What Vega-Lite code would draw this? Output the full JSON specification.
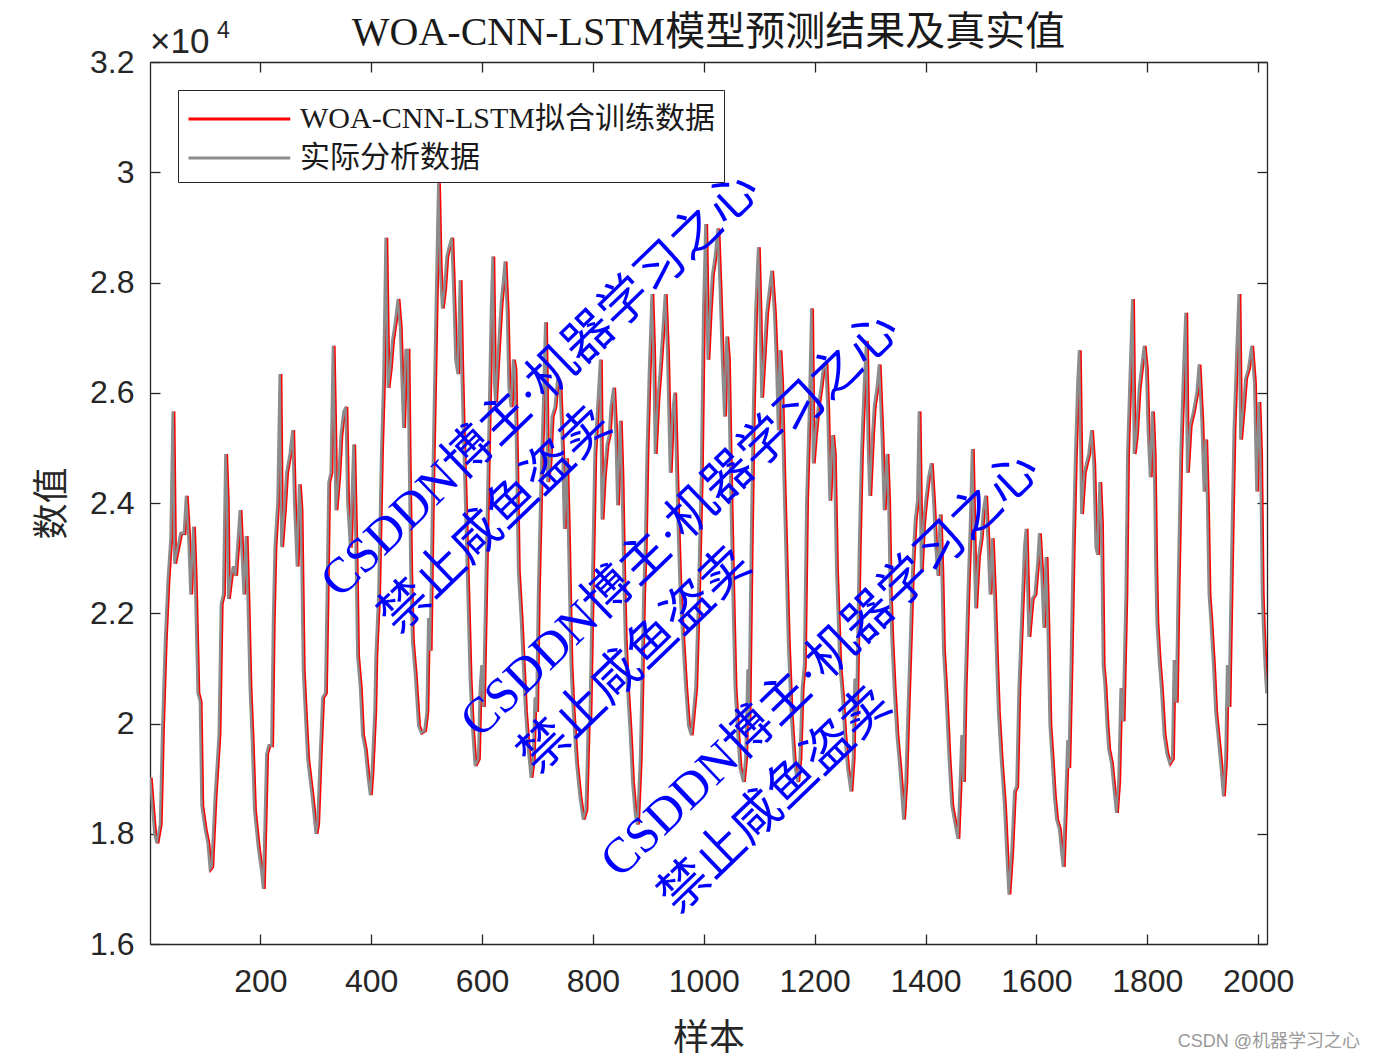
{
"$schema": "https://vega.github.io/schema/vega-lite/v6.json",
"width": 1117,
"height": 882,
"autosize": {"type": "none"},
"padding": {"left": 150, "top": 62, "right": 109, "bottom": 117},
"background": "white",
"config": {
  "view": {"stroke": null},
  "axis": {"domainColor": "#262626", "tickColor": "#262626", "labelColor": "#262626", "titleColor": "#262626", "domainWidth": 1.3, "tickWidth": 1.3, "tickSize": -10, "grid": false, "labelFont": "Liberation Sans", "labelFontSize": 32, "labelFlush": false, "labelOverlap": false}
},
"title": {"text": "WOA-CNN-LSTM模型预测结果及真实值", "font": "Liberation Serif, Noto Sans CJK SC", "fontSize": 40, "fontWeight": "normal", "color": "#1a1a1a", "offset": 14, "dy": 47, "anchor": "middle"},
"datasets": {
"series": [
{"s":1,"q":3,"a":19020},{"s":5,"q":7,"a":18500},{"s":9,"q":11,"a":18000},{"s":13,"q":15,"a":17830},{"s":19,"q":21,"a":18170},{"s":23,"q":25,"a":19870},{"s":28,"q":30,"a":21490},{"s":33,"q":35,"a":22600},{"s":38,"q":40,"a":23360},{"s":42,"q":44,"a":25660},{"s":45,"q":47,"a":22900},{"s":51,"q":53,"a":23200},{"s":56,"q":58,"a":23450},{"s":62,"q":64,"a":23450},{"s":66,"q":68,"a":24130},{"s":70,"q":72,"a":23450},{"s":74,"q":76,"a":22340},{"s":79,"q":81,"a":23570},{"s":82,"q":84,"a":22680},{"s":87,"q":89,"a":20550},{"s":91,"q":93,"a":20400},{"s":94,"q":96,"a":18510},{"s":100,"q":102,"a":18080},{"s":105,"q":107,"a":17830},{"s":109,"q":111,"a":17360},{"s":112,"q":114,"a":17400},{"s":118,"q":120,"a":18680},{"s":121,"q":123,"a":19150},{"s":125,"q":127,"a":19800},{"s":129,"q":131,"a":22170},{"s":133,"q":135,"a":22340},{"s":137,"q":139,"a":24890},{"s":140,"q":142,"a":24040},{"s":142,"q":144,"a":22260},{"s":147,"q":149,"a":22680},{"s":151,"q":153,"a":22850},{"s":155,"q":157,"a":22680},{"s":159,"q":161,"a":23280},{"s":163,"q":165,"a":23870},{"s":166,"q":168,"a":23190},{"s":170,"q":172,"a":22340},{"s":174,"q":176,"a":23400},{"s":177,"q":179,"a":22340},{"s":181,"q":183,"a":20640},{"s":185,"q":187,"a":19660},{"s":189,"q":191,"a":18430},{"s":196,"q":198,"a":17740},{"s":202,"q":204,"a":17300},{"s":205,"q":207,"a":17000},{"s":211,"q":213,"a":19450},{"s":215,"q":217,"a":19600},{"s":220,"q":222,"a":19600},{"s":223,"q":225,"a":21900},{"s":226,"q":228,"a":23200},{"s":231,"q":233,"a":24040},{"s":235,"q":237,"a":26340},{"s":238,"q":240,"a":23200},{"s":243,"q":245,"a":23870},{"s":247,"q":249,"a":24550},{"s":253,"q":255,"a":24890},{"s":258,"q":260,"a":25320},{"s":261,"q":263,"a":24040},{"s":266,"q":268,"a":22850},{"s":270,"q":272,"a":24340},{"s":273,"q":275,"a":23870},{"s":277,"q":279,"a":20980},{"s":281,"q":283,"a":20130},{"s":285,"q":287,"a":19360},{"s":293,"q":295,"a":18680},{"s":300,"q":302,"a":18000},{"s":303,"q":305,"a":18170},{"s":308,"q":310,"a":19530},{"s":312,"q":314,"a":20470},{"s":317,"q":319,"a":20550},{"s":320,"q":322,"a":22340},{"s":323,"q":325,"a":24380},{"s":327,"q":329,"a":24550},{"s":331,"q":333,"a":26850},{"s":334,"q":336,"a":25230},{"s":336,"q":338,"a":23870},{"s":341,"q":343,"a":24470},{"s":345,"q":347,"a":25230},{"s":350,"q":352,"a":25660},{"s":354,"q":356,"a":25740},{"s":357,"q":359,"a":24040},{"s":362,"q":364,"a":23190},{"s":368,"q":370,"a":25060},{"s":372,"q":374,"a":23190},{"s":375,"q":377,"a":21230},{"s":380,"q":382,"a":20640},{"s":384,"q":386,"a":19790},{"s":389,"q":391,"a":19530},{"s":394,"q":396,"a":19020},{"s":398,"q":400,"a":18700},
{"s":401,"q":403,"a":19110},{"s":406,"q":408,"a":20210},{"s":408,"q":410,"a":21230},{"s":413,"q":415,"a":22340},{"s":418,"q":420,"a":24890},{"s":422,"q":424,"a":26260},{"s":426,"q":428,"a":28810},{"s":430,"q":432,"a":26090},{"s":434,"q":436,"a":26430},{"s":438,"q":440,"a":26940},{"s":443,"q":445,"a":27280},{"s":448,"q":450,"a":27700},{"s":452,"q":454,"a":27190},{"s":455,"q":457,"a":26260},{"s":458,"q":460,"a":25360},{"s":462,"q":464,"a":26770},{"s":466,"q":468,"a":26770},{"s":468,"q":470,"a":24890},{"s":471,"q":473,"a":22680},{"s":474,"q":476,"a":21490},{"s":479,"q":481,"a":20890},{"s":485,"q":487,"a":19960},{"s":490,"q":492,"a":19830},{"s":496,"q":498,"a":19870},{"s":500,"q":502,"a":20210},{"s":503,"q":505,"a":21910},{"s":506,"q":508,"a":21320},{"s":510,"q":512,"a":24040},{"s":514,"q":516,"a":26170},{"s":518,"q":520,"a":28300},{"s":521,"q":523,"a":29800},{"s":524,"q":526,"a":28300},{"s":528,"q":530,"a":27530},{"s":532,"q":534,"a":27870},{"s":536,"q":538,"a":28470},{"s":540,"q":542,"a":28640},{"s":545,"q":547,"a":28810},{"s":549,"q":551,"a":27620},{"s":552,"q":554,"a":26600},{"s":556,"q":558,"a":26340},{"s":560,"q":562,"a":28040},{"s":563,"q":565,"a":26430},{"s":566,"q":568,"a":25230},{"s":569,"q":571,"a":24210},{"s":574,"q":576,"a":22340},{"s":578,"q":580,"a":20810},{"s":582,"q":584,"a":19960},{"s":587,"q":589,"a":19230},{"s":593,"q":595,"a":19360},{"s":596,"q":598,"a":20640},{"s":599,"q":601,"a":21060},
{"s":602,"q":604,"a":20300},{"s":606,"q":608,"a":22340},{"s":611,"q":613,"a":24890},{"s":616,"q":618,"a":27450},{"s":619,"q":621,"a":28470},{"s":622,"q":624,"a":26170},{"s":624,"q":626,"a":25830},{"s":629,"q":631,"a":26770},{"s":634,"q":636,"a":27620},{"s":638,"q":640,"a":28040},{"s":641,"q":643,"a":28380},{"s":645,"q":647,"a":27450},{"s":648,"q":650,"a":26090},{"s":652,"q":654,"a":25740},{"s":656,"q":658,"a":26600},{"s":659,"q":661,"a":26430},{"s":662,"q":664,"a":24720},{"s":665,"q":667,"a":22770},{"s":670,"q":672,"a":21910},{"s":674,"q":676,"a":21060},{"s":678,"q":680,"a":20210},{"s":683,"q":685,"a":19530},{"s":688,"q":690,"a":19020},{"s":692,"q":694,"a":19360},{"s":695,"q":697,"a":20470},{"s":698,"q":700,"a":20210},{"s":701,"q":703,"a":22340},{"s":706,"q":708,"a":24470},{"s":710,"q":712,"a":25740},{"s":714,"q":716,"a":27280},{"s":718,"q":720,"a":24380},{"s":722,"q":724,"a":24720},{"s":726,"q":728,"a":25570},{"s":731,"q":733,"a":25740},{"s":736,"q":738,"a":26260},{"s":740,"q":742,"a":26170},{"s":745,"q":747,"a":24890},{"s":748,"q":750,"a":23530},{"s":752,"q":754,"a":24810},{"s":755,"q":757,"a":23620},{"s":760,"q":762,"a":21060},{"s":764,"q":766,"a":20210},{"s":770,"q":772,"a":19280},{"s":776,"q":778,"a":18680},{"s":782,"q":784,"a":18260},{"s":787,"q":789,"a":18430},{"s":791,"q":793,"a":19960},{"s":794,"q":796,"a":20040},{"s":799,"q":801,"a":22770},
{"s":803,"q":805,"a":24890},{"s":808,"q":810,"a":25740},{"s":813,"q":815,"a":26600},{"s":816,"q":818,"a":23700},{"s":820,"q":822,"a":24470},{"s":825,"q":827,"a":25060},{"s":829,"q":831,"a":25230},{"s":832,"q":834,"a":25740},{"s":837,"q":839,"a":26090},{"s":841,"q":843,"a":25230},{"s":844,"q":846,"a":23960},{"s":849,"q":851,"a":25490},{"s":852,"q":854,"a":24470},{"s":855,"q":857,"a":22770},{"s":858,"q":860,"a":21490},{"s":862,"q":864,"a":20640},{"s":867,"q":869,"a":19790},{"s":871,"q":873,"a":18940},{"s":876,"q":878,"a":18340},{"s":880,"q":882,"a":18170},{"s":885,"q":887,"a":19360},{"s":888,"q":890,"a":20720},{"s":891,"q":893,"a":22340},{"s":894,"q":896,"a":23190},{"s":897,"q":899,"a":24890},{"s":901,"q":903,"a":26340},{"s":906,"q":908,"a":27790},{"s":909,"q":911,"a":26770},{"s":912,"q":914,"a":24890},{"s":917,"q":919,"a":25910},{"s":921,"q":923,"a":26430},{"s":925,"q":927,"a":27020},{"s":930,"q":932,"a":27790},{"s":934,"q":936,"a":26770},{"s":939,"q":941,"a":24550},{"s":943,"q":945,"a":25570},{"s":947,"q":949,"a":26000},{"s":949,"q":951,"a":25230},{"s":953,"q":955,"a":23620},{"s":957,"q":959,"a":22340},{"s":962,"q":964,"a":21490},{"s":967,"q":969,"a":20640},{"s":972,"q":974,"a":19960},{"s":977,"q":979,"a":19790},{"s":981,"q":983,"a":20210},{"s":985,"q":987,"a":20640},{"s":990,"q":992,"a":22340},{"s":995,"q":997,"a":24470},{"s":999,"q":1001,"a":27500},
{"s":1003,"q":1005,"a":29060},{"s":1007,"q":1009,"a":26600},{"s":1011,"q":1013,"a":27450},{"s":1015,"q":1017,"a":28130},{"s":1020,"q":1022,"a":28470},{"s":1025,"q":1027,"a":28980},{"s":1029,"q":1031,"a":27870},{"s":1033,"q":1035,"a":26600},{"s":1037,"q":1039,"a":25570},{"s":1041,"q":1043,"a":27020},{"s":1044,"q":1046,"a":26600},{"s":1047,"q":1049,"a":24890},{"s":1050,"q":1052,"a":23360},{"s":1053,"q":1055,"a":21910},{"s":1056,"q":1058,"a":20640},{"s":1061,"q":1063,"a":19790},{"s":1065,"q":1067,"a":19190},{"s":1071,"q":1073,"a":18940},{"s":1075,"q":1077,"a":19360},{"s":1079,"q":1081,"a":20980},{"s":1081,"q":1083,"a":20040},{"s":1085,"q":1087,"a":23190},{"s":1089,"q":1091,"a":25740},{"s":1093,"q":1095,"a":27450},{"s":1098,"q":1100,"a":28640},{"s":1101,"q":1103,"a":27450},{"s":1104,"q":1106,"a":25910},{"s":1109,"q":1111,"a":26770},{"s":1113,"q":1115,"a":27450},{"s":1117,"q":1119,"a":27790},{"s":1122,"q":1124,"a":28210},{"s":1127,"q":1129,"a":27450},{"s":1131,"q":1133,"a":26430},{"s":1134,"q":1136,"a":25320},{"s":1137,"q":1139,"a":26770},{"s":1140,"q":1142,"a":26170},{"s":1144,"q":1146,"a":24470},{"s":1147,"q":1149,"a":23360},{"s":1152,"q":1154,"a":21490},{"s":1157,"q":1159,"a":20210},{"s":1163,"q":1165,"a":19280},{"s":1169,"q":1171,"a":18940},{"s":1173,"q":1175,"a":19360},{"s":1177,"q":1179,"a":20640},{"s":1181,"q":1183,"a":21060},{"s":1185,"q":1187,"a":24040},{"s":1190,"q":1192,"a":25740},{"s":1194,"q":1196,"a":27530},{"s":1197,"q":1199,"a":24720},
{"s":1201,"q":1203,"a":25230},{"s":1206,"q":1208,"a":25740},{"s":1211,"q":1213,"a":26090},{"s":1215,"q":1217,"a":26430},{"s":1220,"q":1222,"a":26510},{"s":1223,"q":1225,"a":25740},{"s":1227,"q":1229,"a":24040},{"s":1232,"q":1234,"a":25230},{"s":1235,"q":1237,"a":24890},{"s":1239,"q":1241,"a":22770},{"s":1242,"q":1244,"a":21910},{"s":1245,"q":1247,"a":21060},{"s":1250,"q":1252,"a":20470},{"s":1254,"q":1256,"a":19790},{"s":1259,"q":1261,"a":19190},{"s":1265,"q":1267,"a":18770},{"s":1269,"q":1271,"a":19360},{"s":1272,"q":1274,"a":20810},{"s":1275,"q":1277,"a":20130},{"s":1280,"q":1282,"a":23190},{"s":1284,"q":1286,"a":24890},{"s":1289,"q":1291,"a":26170},{"s":1293,"q":1295,"a":26940},{"s":1296,"q":1298,"a":25060},{"s":1299,"q":1301,"a":24130},{"s":1304,"q":1306,"a":25230},{"s":1307,"q":1309,"a":25740},{"s":1312,"q":1314,"a":26090},{"s":1316,"q":1318,"a":26510},{"s":1321,"q":1323,"a":25230},{"s":1325,"q":1327,"a":23870},{"s":1330,"q":1332,"a":24890},{"s":1333,"q":1335,"a":24040},{"s":1336,"q":1338,"a":22340},{"s":1339,"q":1341,"a":21490},{"s":1343,"q":1345,"a":20640},{"s":1348,"q":1350,"a":19790},{"s":1354,"q":1356,"a":19110},{"s":1360,"q":1362,"a":18260},{"s":1364,"q":1366,"a":18940},{"s":1367,"q":1369,"a":19960},{"s":1372,"q":1374,"a":21490},{"s":1376,"q":1378,"a":22770},{"s":1381,"q":1383,"a":23700},{"s":1385,"q":1387,"a":24040},{"s":1388,"q":1390,"a":25660},{"s":1392,"q":1394,"a":22770},{"s":1396,"q":1398,"a":23620},
{"s":1400,"q":1402,"a":24040},{"s":1405,"q":1407,"a":24470},{"s":1410,"q":1412,"a":24720},{"s":1414,"q":1416,"a":24040},{"s":1418,"q":1420,"a":23190},{"s":1422,"q":1424,"a":22680},{"s":1426,"q":1428,"a":23790},{"s":1429,"q":1431,"a":22770},{"s":1432,"q":1434,"a":21320},{"s":1435,"q":1437,"a":20810},{"s":1438,"q":1440,"a":20210},{"s":1442,"q":1444,"a":19360},{"s":1447,"q":1449,"a":18510},{"s":1453,"q":1455,"a":18170},{"s":1458,"q":1460,"a":17910},{"s":1462,"q":1464,"a":18940},{"s":1465,"q":1467,"a":19790},{"s":1468,"q":1470,"a":18940},{"s":1471,"q":1473,"a":20640},{"s":1476,"q":1478,"a":22340},{"s":1480,"q":1482,"a":23530},{"s":1484,"q":1486,"a":24980},{"s":1488,"q":1490,"a":22940},{"s":1490,"q":1492,"a":22090},{"s":1495,"q":1497,"a":23020},{"s":1500,"q":1502,"a":23360},{"s":1504,"q":1506,"a":23870},{"s":1508,"q":1510,"a":24130},{"s":1512,"q":1514,"a":23360},{"s":1516,"q":1518,"a":22340},{"s":1520,"q":1522,"a":23360},{"s":1524,"q":1526,"a":22340},{"s":1528,"q":1530,"a":21060},{"s":1531,"q":1533,"a":20210},{"s":1536,"q":1538,"a":19360},{"s":1542,"q":1544,"a":18510},{"s":1546,"q":1548,"a":17660},{"s":1550,"q":1552,"a":16900},{"s":1555,"q":1557,"a":17660},{"s":1560,"q":1562,"a":18770},{"s":1564,"q":1566,"a":18850},{"s":1568,"q":1570,"a":20640},{"s":1573,"q":1575,"a":21910},{"s":1578,"q":1580,"a":23190},{"s":1581,"q":1583,"a":23530},{"s":1584,"q":1586,"a":22340},{"s":1586,"q":1588,"a":21570},{"s":1592,"q":1594,"a":22260},{"s":1597,"q":1599,"a":22340},
{"s":1602,"q":1604,"a":22940},{"s":1605,"q":1607,"a":23450},{"s":1609,"q":1611,"a":22770},{"s":1613,"q":1615,"a":21740},{"s":1617,"q":1619,"a":23020},{"s":1620,"q":1622,"a":21910},{"s":1624,"q":1626,"a":19960},{"s":1628,"q":1630,"a":19360},{"s":1632,"q":1634,"a":18680},{"s":1636,"q":1638,"a":18260},{"s":1641,"q":1643,"a":18090},{"s":1645,"q":1647,"a":17660},{"s":1648,"q":1650,"a":17400},{"s":1652,"q":1654,"a":18510},{"s":1656,"q":1658,"a":19700},{"s":1658,"q":1660,"a":19190},{"s":1662,"q":1664,"a":21060},{"s":1666,"q":1668,"a":23190},{"s":1670,"q":1672,"a":24890},{"s":1674,"q":1676,"a":26170},{"s":1677,"q":1679,"a":26770},{"s":1681,"q":1683,"a":23800},{"s":1686,"q":1688,"a":24550},{"s":1690,"q":1692,"a":24720},{"s":1694,"q":1696,"a":24890},{"s":1699,"q":1701,"a":25320},{"s":1703,"q":1705,"a":24720},{"s":1707,"q":1709,"a":23190},{"s":1710,"q":1712,"a":23060},{"s":1714,"q":1716,"a":24380},{"s":1717,"q":1719,"a":23620},{"s":1720,"q":1722,"a":21060},{"s":1723,"q":1725,"a":20720},{"s":1727,"q":1729,"a":19960},{"s":1730,"q":1732,"a":19530},{"s":1735,"q":1737,"a":19280},{"s":1740,"q":1742,"a":18770},{"s":1744,"q":1746,"a":18380},{"s":1748,"q":1750,"a":18940},{"s":1752,"q":1754,"a":20640},{"s":1756,"q":1758,"a":20040},{"s":1761,"q":1763,"a":22340},{"s":1764,"q":1766,"a":24890},{"s":1768,"q":1770,"a":26170},{"s":1773,"q":1775,"a":27700},{"s":1776,"q":1778,"a":24890},{"s":1780,"q":1782,"a":25230},{"s":1785,"q":1787,"a":26090},{"s":1789,"q":1791,"a":26430},{"s":1794,"q":1796,"a":26850},{"s":1798,"q":1800,"a":26430},
{"s":1801,"q":1803,"a":25320},{"s":1805,"q":1807,"a":24470},{"s":1809,"q":1811,"a":25660},{"s":1812,"q":1814,"a":24890},{"s":1815,"q":1817,"a":22770},{"s":1817,"q":1819,"a":21830},{"s":1821,"q":1823,"a":21150},{"s":1825,"q":1827,"a":20640},{"s":1830,"q":1832,"a":19790},{"s":1835,"q":1837,"a":19450},{"s":1840,"q":1842,"a":19280},{"s":1845,"q":1847,"a":19360},{"s":1848,"q":1850,"a":21150},{"s":1852,"q":1854,"a":20380},{"s":1855,"q":1857,"a":22340},{"s":1860,"q":1862,"a":24890},{"s":1865,"q":1867,"a":26430},{"s":1869,"q":1871,"a":27450},{"s":1872,"q":1874,"a":24550},{"s":1877,"q":1879,"a":25400},{"s":1883,"q":1885,"a":25660},{"s":1889,"q":1891,"a":26000},{"s":1893,"q":1895,"a":26510},{"s":1898,"q":1900,"a":25490},{"s":1902,"q":1904,"a":24210},{"s":1905,"q":1907,"a":25150},{"s":1908,"q":1910,"a":24040},{"s":1911,"q":1913,"a":22340},{"s":1914,"q":1916,"a":21910},{"s":1919,"q":1921,"a":21060},{"s":1923,"q":1925,"a":20210},{"s":1928,"q":1930,"a":19700},{"s":1932,"q":1934,"a":19280},{"s":1937,"q":1939,"a":18680},{"s":1941,"q":1943,"a":19360},{"s":1944,"q":1946,"a":21060},{"s":1947,"q":1949,"a":20300},{"s":1952,"q":1954,"a":23190},{"s":1956,"q":1958,"a":25320},{"s":1961,"q":1963,"a":26770},{"s":1965,"q":1967,"a":27790},{"s":1968,"q":1970,"a":25150},{"s":1973,"q":1975,"a":25740},{"s":1977,"q":1979,"a":26260},{"s":1982,"q":1984,"a":26430},{"s":1988,"q":1990,"a":26850},{"s":1993,"q":1995,"a":26170},{"s":1997,"q":1999,"a":24210},{"s":2001,"q":2003,"a":25830},{"s":2004,"q":2006,"a":24890},{"s":2007,"q":2009,"a":22340},{"s":2009,"q":2011,"a":21740},{"s":2012,"q":2014,"a":21060},{"s":2015,"q":2016,"a":20550}
],
"watermark": [
{"s":705,"v":26140,"t":"CSDDN博主·机器学习之心"},
{"s":624,"v":23690,"t":"禁止咸鱼盗卖"},
{"s":957,"v":23600,"t":"CSDDN博主·机器学习之心"},
{"s":876,"v":21150,"t":"禁止咸鱼盗卖"},
{"s":1210,"v":21060,"t":"CSDDN博主·机器学习之心"},
{"s":1129,"v":18610,"t":"禁止咸鱼盗卖"}
]
},
"layer": [
{
  "data": {"name": "series"},
  "mark": {"type": "line", "strokeWidth": 3.2, "clip": true},
  "encoding": {
    "x": {"field": "q", "type": "quantitative", "scale": {"domain": [1, 2016], "nice": false, "zero": false},
      "axis": {"orient": "bottom", "values": [200,400,600,800,1000,1200,1400,1600,1800,2000], "format": "d", "title": "样本", "titleFont": "Noto Sans CJK SC", "titleFontSize": 36, "titleFontWeight": "normal", "titlePadding": 24, "labelPadding": 32}},
    "y": {"field": "a", "type": "quantitative", "scale": {"domain": [16000, 32000], "nice": false, "zero": false},
      "axis": {"orient": "left", "values": [16000,18000,20000,22000,24000,26000,28000,30000,32000], "labelExpr": "format(datum.value/10000, '~g')", "title": "数值", "titleFont": "Noto Sans CJK SC", "titleFontSize": 36, "titleFontWeight": "normal", "titlePadding": 18, "labelPadding": 26}},
    "color": {"datum": "WOA-CNN-LSTM拟合训练数据", "type": "nominal",
      "scale": {"domain": ["WOA-CNN-LSTM拟合训练数据", "实际分析数据"], "range": ["#ff0000", "#8c8c8c"]},
      "legend": {"orient": "none", "legendX": 28, "legendY": 28, "title": null, "fillColor": "white", "strokeColor": "#262626", "padding": 9, "symbolType": "M-1,0H4.5", "symbolSize": 1369, "symbolStrokeWidth": 3, "labelFont": "Liberation Serif, Noto Sans CJK SC", "labelFontSize": 30, "labelColor": "#1a1a1a", "labelLimit": 1000, "labelOffset": 73, "rowPadding": 4}}
  }
},
{
  "data": {"name": "series"},
  "mark": {"type": "line", "strokeWidth": 2.5, "clip": true},
  "encoding": {
    "x": {"field": "s", "type": "quantitative", "axis": {"orient": "top", "values": [200,400,600,800,1000,1200,1400,1600,1800,2000], "labels": false, "title": null}},
    "y": {"field": "a", "type": "quantitative", "axis": {"orient": "right", "values": [16000,18000,20000,22000,24000,26000,28000,30000,32000], "labels": false, "title": null}},
    "color": {"datum": "实际分析数据", "type": "nominal"}
  }
},
{
  "data": {"name": "watermark"},
  "mark": {"type": "text", "angle": -44, "fontSize": 50, "font": "Liberation Serif, Noto Sans CJK SC", "color": "#0000ff", "align": "center", "baseline": "middle"},
  "encoding": {
    "x": {"field": "s", "type": "quantitative", "axis": null},
    "y": {"field": "v", "type": "quantitative", "axis": null},
    "text": {"field": "t"}
  }
},
{
  "data": {"values": [{"t": "×10"}]},
  "mark": {"type": "text", "align": "left", "baseline": "alphabetic", "dx": 0, "dy": -9, "fontSize": 35, "font": "Liberation Sans", "color": "#262626"},
  "encoding": {
    "x": {"datum": 1, "type": "quantitative", "axis": null},
    "y": {"datum": 32000, "type": "quantitative", "axis": null},
    "text": {"field": "t"}
  }
},
{
  "data": {"values": [{"t": "4"}]},
  "mark": {"type": "text", "align": "left", "baseline": "alphabetic", "dx": 67, "dy": -24, "fontSize": 23, "font": "Liberation Sans", "color": "#262626"},
  "encoding": {
    "x": {"datum": 1, "type": "quantitative", "axis": null},
    "y": {"datum": 32000, "type": "quantitative", "axis": null},
    "text": {"field": "t"}
  }
},
{
  "data": {"values": [{"t": "CSDN @机器学习之心"}]},
  "mark": {"type": "text", "align": "right", "baseline": "middle", "dx": 93, "dy": 98, "fontSize": 18, "font": "Liberation Sans, Noto Sans CJK SC", "color": "#999999"},
  "encoding": {
    "x": {"datum": 2016, "type": "quantitative", "axis": null},
    "y": {"datum": 16000, "type": "quantitative", "axis": null},
    "text": {"field": "t"}
  }
}
],
"resolve": {"axis": {"x": "independent", "y": "independent"}}
}
